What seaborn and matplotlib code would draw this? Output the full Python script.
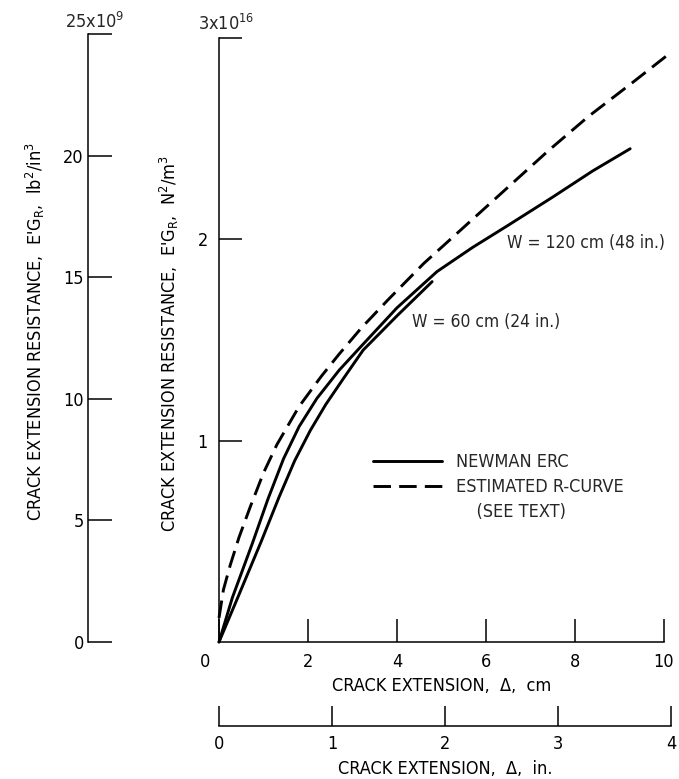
import matplotlib
matplotlib.use("Agg")
import matplotlib.pyplot as plt
import matplotlib.font_manager as fm
from matplotlib.lines import Line2D
from matplotlib.transforms import ScaledTranslation
import pandas as pd
import seaborn as sns

# Crack extension (cm) vs. crack extension resistance E'G_R (10^16 N^2/m^3)
w120_cm = [0, 0.3, 0.75, 1.1, 1.45, 1.8, 2.2, 2.7, 3.2, 4.0, 4.9, 5.7, 6.5, 7.5, 8.4, 9.24]
w120_res = [0, 0.22, 0.49, 0.71, 0.91, 1.07, 1.21, 1.35, 1.47, 1.66, 1.84, 1.96, 2.07, 2.21, 2.34, 2.45]
w60_cm = [0, 0.42, 0.95, 1.35, 1.7, 2.05, 2.4, 2.8, 3.24, 4.0, 4.79]
w60_res = [0, 0.22, 0.5, 0.72, 0.9, 1.05, 1.18, 1.31, 1.45, 1.62, 1.79]
rcurve_cm = [0, 0.1, 0.25, 0.45, 0.7, 1.0, 1.3, 1.8, 2.3, 2.7, 3.2, 3.8, 4.6, 5.6,
             6.5, 7.4, 8.3, 9.3, 10.05]
rcurve_res = [0.12, 0.26, 0.38, 0.52, 0.67, 0.84, 0.98, 1.17, 1.32, 1.43, 1.56, 1.70,
              1.88, 2.08, 2.26, 2.44, 2.61, 2.78, 2.91]

cm_ticks = [0, 2, 4, 6, 8, 10]
in_ticks = [0, 1, 2, 3, 4]
si_ticks = [1, 2, 3]
us_ticks = [0, 5, 10, 15, 20, 25]
us_labels = ["0", "5", "10", "15", "20", ""]

CM_PER_IN = 2.54
SI_PER_US = 0.12073   # 10^9 lb^2/in^3 expressed in 10^16 N^2/m^3

# pick a narrow sans face if one is installed
_faces = {(f.name, f.stretch) for f in fm.fontManager.ttflist}
_names = {n for n, _ in _faces}
if "Liberation Sans Narrow" in _names:
    FACE, STRETCH, FS = "Liberation Sans Narrow", "normal", 14
elif ("DejaVu Sans", "condensed") in _faces:
    FACE, STRETCH, FS = "DejaVu Sans", "condensed", 13
else:
    FACE, STRETCH, FS = "Liberation Sans", "normal", 13

sns.set_theme(style="white")
plt.rcParams["font.family"] = [FACE, "DejaVu Sans"]
plt.rcParams["font.stretch"] = STRETCH
plt.rcParams["mathtext.fontset"] = "custom"
plt.rcParams["mathtext.rm"] = FACE
plt.rcParams["mathtext.it"] = FACE
plt.rcParams["mathtext.bf"] = FACE
plt.rcParams["font.size"] = FS

W, H = 679, 779
DPI = 100
fig = plt.figure(figsize=(W / DPI, H / DPI), dpi=DPI)
fig.patch.set_facecolor("white")


def box(left, bottom, width, height):
    return [left / W, 1 - bottom / H, width / W, height / H]


# main axes (SI units)
mx0, mx1, my0, my1 = 219, 664, 642, 38
ax = fig.add_axes(box(mx0, my0, mx1 - mx0, my0 - my1))
ax.set_xlim(0, 10)
ax.set_ylim(0, 3)
ax.patch.set_alpha(0)

lw = 2.1
dash = (0, (6.0, 2.8))
df120 = pd.DataFrame({"cm": w120_cm, "res": w120_res})
df60 = pd.DataFrame({"cm": w60_cm, "res": w60_res})
dfr = pd.DataFrame({"cm": rcurve_cm, "res": rcurve_res})
for d, ls in ((df120, "-"), (df60, "-"), (dfr, dash)):
    sns.lineplot(data=d, x="cm", y="res", ax=ax, color="black", lw=lw, linestyle=ls,
                 estimator=None, sort=False, clip_on=False,
                 solid_joinstyle="round", dash_joinstyle="round")

for s in ("top", "right"):
    ax.spines[s].set_visible(False)
for s in ("left", "bottom"):
    ax.spines[s].set_color("black")
    ax.spines[s].set_linewidth(1.1)

ax.set_xticks(cm_ticks)
ax.set_xticklabels([str(t) for t in cm_ticks])
ax.set_yticks(si_ticks)
ax.set_yticklabels(["1", "2", ""])
ax.tick_params(axis="x", direction="in", length=16.5, width=1.1, pad=8,
               colors="black", labelsize=FS, bottom=True)
ax.tick_params(axis="y", direction="in", length=16.5, width=1.1, pad=8,
               colors="black", labelsize=FS, left=True)
# origin label sits left of the corner
lab0 = ax.xaxis.get_major_ticks()[0].label1
lab0.set_transform(lab0.get_transform() + ScaledTranslation(-0.14, 0, fig.dpi_scale_trans))

ax.set_xlabel("CRACK EXTENSION,  \u0394,  cm", fontsize=FS, labelpad=4, color="black")
ax.set_ylabel("CRACK EXTENSION RESISTANCE,  E'G$_{\\mathrm{R}}$,  N$^2$/m$^3$",
              fontsize=FS, color="black")
ax.yaxis.set_label_coords(181 / W, 1 - 343 / H, transform=fig.transFigure)

ax.annotate("3x10$^{16}$", xy=(0, 3), xycoords="data", xytext=(-15, 3),
            textcoords="offset points", ha="left", va="bottom", fontsize=FS)

ax.text(6.47, 1.98, "W = 120 cm (48 in.)", ha="left", va="center", fontsize=FS - 0.5)
ax.text(4.34, 1.59, "W = 60 cm (24 in.)", ha="left", va="center", fontsize=FS - 0.5)

handles = [Line2D([], [], color="black", lw=lw),
           Line2D([], [], color="black", lw=lw, linestyle=dash),
           Line2D([], [], linestyle="none")]
labels = ["NEWMAN ERC", "ESTIMATED R-CURVE", "    (SEE TEXT)"]
ax.legend(handles, labels, loc="upper left", bbox_to_anchor=(373 / W, 1 - 453 / H),
          bbox_transform=fig.transFigure, frameon=False, fontsize=FS,
          handlelength=3.8, handletextpad=0.8, labelspacing=0.38,
          borderpad=0, borderaxespad=0)

# secondary scale in inches below the cm axis
in_w = (mx1 - mx0) * (4 * CM_PER_IN / 10)
axi = fig.add_axes(box(mx0, 726, in_w, 20))
axi.set_xlim(0, 4)
axi.set_ylim(0, 1)
axi.patch.set_alpha(0)
for s in ("top", "right", "left"):
    axi.spines[s].set_visible(False)
axi.spines["bottom"].set_color("black")
axi.spines["bottom"].set_linewidth(1.1)
axi.set_yticks([])
axi.set_xticks(in_ticks)
axi.set_xticklabels([str(t) for t in in_ticks])
axi.tick_params(axis="x", direction="in", length=14.4, width=1.1, pad=6.5,
                colors="black", labelsize=FS, bottom=True)
axi.set_xlabel("CRACK EXTENSION,  \u0394,  in.", fontsize=FS, labelpad=5, color="black")

# secondary scale in lb^2/in^3 on the far left
us_h = (my0 - my1) * (25 * SI_PER_US / 3)
axl = fig.add_axes(box(88, my0, 30, us_h))
axl.set_ylim(0, 25)
axl.set_xlim(0, 1)
axl.patch.set_alpha(0)
for s in ("top", "right", "bottom"):
    axl.spines[s].set_visible(False)
axl.spines["left"].set_color("black")
axl.spines["left"].set_linewidth(1.1)
axl.set_xticks([])
axl.set_yticks(us_ticks)
axl.set_yticklabels(us_labels)
axl.tick_params(axis="y", direction="in", length=17, width=1.1, pad=3,
                colors="black", labelsize=FS, left=True)
axl.set_ylabel("CRACK EXTENSION RESISTANCE,  E'G$_{\\mathrm{R}}$,  lb$^2$/in$^3$",
               fontsize=FS, color="black")
axl.yaxis.set_label_coords(47 / W, 1 - 332 / H, transform=fig.transFigure)
axl.annotate("25x10$^{9}$", xy=(0, 25), xycoords="data", xytext=(-16.5, 2),
             textcoords="offset points", ha="left", va="bottom", fontsize=FS)

fig.savefig("out.png", dpi=DPI, facecolor="white")
